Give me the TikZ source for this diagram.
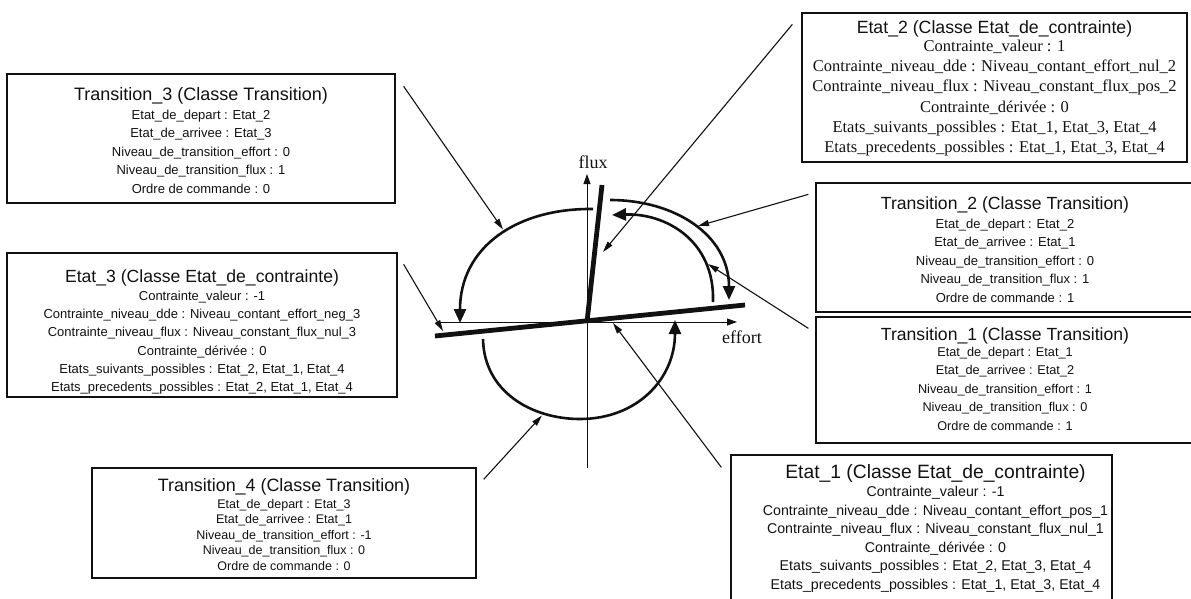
\documentclass[tikz,border=0pt]{standalone}
\usepackage{fontspec}
\setmainfont{Liberation Sans}
\newfontfamily\serifface{Liberation Serif}
\newfontfamily\sansface{Liberation Sans}
\usepackage{tikz}
\usetikzlibrary{arrows.meta,positioning}
\definecolor{ink}{HTML}{111111}
\tikzset{
  frame/.style={draw=ink, line width=1.3pt, inner sep=0pt},
  boxtext/.style={align=center, inner sep=0pt, text=ink},
  pointer/.style={-{Triangle[length=11pt,width=6pt]}, line width=1.1pt, draw=ink},
  swing/.style={-{Triangle[length=14pt,width=12pt]}, line width=2.6pt, draw=ink},
  axis/.style={-{Triangle[length=10pt,width=7pt]}, line width=0.9pt, draw=ink},
  bar/.style={line width=4.8pt, draw=ink},
  axislabel/.style={font=\serifface\fontsize{18}{18}\selectfont, text=ink, inner sep=0pt}
}
\newcommand{\boxtitle}[2]{{\sansface\fontsize{#1}{#1}\selectfont #2}}

\begin{document}
\begin{tikzpicture}[x=1pt,y=-1pt]
  \useasboundingbox (0,0) rectangle (1191,598);
  % object boxes
  \node[frame, minimum width=388pt, minimum height=129pt] (t3) at (201,138.5) {};
  \node[frame, minimum width=390pt, minimum height=144pt] (e3) at (202,325) {};
  \node[frame, minimum width=385pt, minimum height=149pt] (e2) at (994.5,87.5) {};
  \node[frame, minimum width=378pt, minimum height=129pt] (t2) at (1005,247.5) {};
  \node[frame, minimum width=378pt, minimum height=126pt] (t1) at (1005,380) {};
  \node[frame, minimum width=381pt, minimum height=149pt] (e1) at (921.5,529.5) {};
  \node[frame, minimum width=384pt, minimum height=110pt] (t4) at (284,523) {};
  % box contents
  \node[boxtext, font=\fontsize{13}{18.5}\selectfont, below=13.8pt of t3.north] (t3txt)
    {\boxtitle{18}{Transition\_3 (Classe Transition)}\\[0.5pt]
     Etat\_de\_depart : Etat\_2\\Etat\_de\_arrivee : Etat\_3\\
     Niveau\_de\_transition\_effort : 0\\Niveau\_de\_transition\_flux : 1\\
     Ordre de commande : 0};
  \node[boxtext, font=\fontsize{13}{18.2}\selectfont, below=17pt of e3.north] (e3txt)
    {\boxtitle{17.6}{Etat\_3 (Classe Etat\_de\_contrainte)}\\
     Contrainte\_valeur : -1\\
     Contrainte\_niveau\_dde : Niveau\_contant\_effort\_neg\_3\\
     Contrainte\_niveau\_flux : Niveau\_constant\_flux\_nul\_3\\
     Contrainte\_dérivée : 0\\
     Etats\_suivants\_possibles : Etat\_2, Etat\_1, Etat\_4\\
     Etats\_precedents\_possibles : Etat\_2, Etat\_1, Etat\_4};
  \node[boxtext, font=\serifface\fontsize{16.5}{20.2}\selectfont, below=7.9pt of e2.north] (e2txt)
    {\boxtitle{17.7}{Etat\_2 (Classe Etat\_de\_contrainte)}\\[-2pt]
     Contrainte\_valeur : 1\\
     Contrainte\_niveau\_dde : Niveau\_contant\_effort\_nul\_2\\
     Contrainte\_niveau\_flux : Niveau\_constant\_flux\_pos\_2\\
     Contrainte\_dérivée : 0\\
     Etats\_suivants\_possibles : Etat\_1, Etat\_3, Etat\_4\\
     Etats\_precedents\_possibles : Etat\_1, Etat\_3, Etat\_4};
  \node[boxtext, font=\fontsize{13}{18.5}\selectfont, below=14pt of t2.north] (t2txt)
    {\boxtitle{17.6}{Transition\_2 (Classe Transition)}\\[0.6pt]
     Etat\_de\_depart : Etat\_2\\Etat\_de\_arrivee : Etat\_1\\
     Niveau\_de\_transition\_effort : 0\\Niveau\_de\_transition\_flux : 1\\
     Ordre de commande : 1};
  \node[boxtext, font=\fontsize{12.7}{18.5}\selectfont, below=11pt of t1.north] (t1txt)
    {\boxtitle{17.6}{Transition\_1 (Classe Transition)}\\[-2.5pt]
     Etat\_de\_depart : Etat\_1\\Etat\_de\_arrivee : Etat\_2\\
     Niveau\_de\_transition\_effort : 1\\Niveau\_de\_transition\_flux : 0\\
     Ordre de commande : 1};
  \node[boxtext, font=\fontsize{14.2}{18.5}\selectfont, below=10.3pt of e1.north, xshift=14pt] (e1txt)
    {\boxtitle{19.3}{Etat\_1 (Classe Etat\_de\_contrainte)}\\[-0.6pt]
     Contrainte\_valeur : -1\\
     Contrainte\_niveau\_dde : Niveau\_contant\_effort\_pos\_1\\
     Contrainte\_niveau\_flux : Niveau\_constant\_flux\_nul\_1\\
     Contrainte\_dérivée : 0\\
     Etats\_suivants\_possibles : Etat\_2, Etat\_3, Etat\_4\\
     Etats\_precedents\_possibles : Etat\_1, Etat\_3, Etat\_4};
  \node[boxtext, font=\fontsize{12.5}{15.5}\selectfont, below=10.8pt of t4.north] (t4txt)
    {\boxtitle{17.9}{Transition\_4 (Classe Transition)}\\[1.4pt]
     Etat\_de\_depart : Etat\_3\\Etat\_de\_arrivee : Etat\_1\\
     Niveau\_de\_transition\_effort : -1\\Niveau\_de\_transition\_flux : 0\\
     Ordre de commande : 0};
  % axes
  \coordinate (o) at (587,322);
  \coordinate (fluxfoot) at (587,468);
  \coordinate (fluxtip) at (587,174);
  \coordinate (effortfoot) at (438,322);
  \coordinate (efforttip) at (737,322);
  \draw[axis] (fluxfoot) -- (fluxtip);
  \draw[axis] (effortfoot) -- (efforttip);
  \node[axislabel, above=5pt of fluxtip, xshift=6pt] (fluxlbl) {flux};
  \node[axislabel] (effortlbl) at (742,337) {effort};
  % constraint levels
  \coordinate (barw) at (435,336);
  \coordinate (bare) at (745,305);
  \coordinate (barn) at (602,185);
  \draw[bar] (barw) -- (bare);
  \draw[bar] (o) -- (barn);
  % transitions
  \draw[swing] (593,209) .. controls (517,208) and (460,247) .. (460,323);
  \draw[swing] (610,200) .. controls (675,200) and (729,235) .. (729,300);
  \draw[swing] (713,302) .. controls (715,240) and (665,213) .. (612,215);
  \draw[swing] (483,339) .. controls (484,392) and (532,419) .. (580,419)
                         .. controls (637,419) and (675,379) .. (675,320);
  % pointers from the boxes
  \coordinate (t3hit) at (503,229.5);
  \coordinate (e2hit) at (603,252);
  \coordinate (t2hit) at (698,226);
  \coordinate (t1hit) at (708,264);
  \coordinate (e1hit) at (613,323);
  \coordinate (t4hit) at (542,415.5);
  \coordinate (e3hit) at (443,331);
  \draw[pointer] ([shift={(8,13)}]t3.north east) -- (t3hit);
  \draw[pointer] ([shift={(-9,12)}]e2.north west) -- (e2hit);
  \draw[pointer] ([shift={(-7,12)}]t2.north west) -- (t2hit);
  \draw[pointer] ([shift={(-7,12)}]t1.north west) -- (t1hit);
  \draw[pointer] ([shift={(-9,13)}]e1.north west) -- (e1hit);
  \draw[pointer] ([shift={(7,12)}]t4.north east) -- (t4hit);
  \draw[pointer] ([shift={(6,12)}]e3.north east) -- (e3hit);
\end{tikzpicture}
\end{document}
